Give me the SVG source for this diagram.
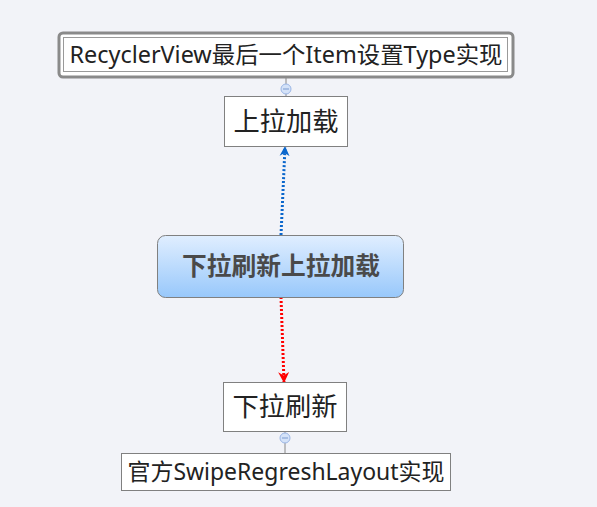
<svg xmlns="http://www.w3.org/2000/svg" width="597" height="507" viewBox="0 0 597 507">
<defs>
<linearGradient id="g" x1="0" y1="0" x2="0" y2="1">
<stop offset="0" stop-color="#e0eeff"/>
<stop offset="1" stop-color="#98c8fb"/>
</linearGradient>
<marker id="ab" viewBox="0 0 10 10" refX="9" refY="5" markerWidth="10" markerHeight="12" markerUnits="userSpaceOnUse" orient="auto">
<path d="M0,0 L10,5 L0,10 L3,5 Z" fill="#0a66cc"/>
</marker>
<marker id="ar" viewBox="0 0 10 10" refX="9" refY="5" markerWidth="11" markerHeight="14" markerUnits="userSpaceOnUse" orient="auto">
<path d="M0,0 L10,5 L0,10 L3,5 Z" fill="#ff0000"/>
</marker>
<style>
.box{fill:#ffffff;stroke:#808080;stroke-width:1}
.t{font-family:"Noto Sans","Noto Sans CJK SC",sans-serif;fill:#222;text-anchor:middle}
.col{fill:#d4e2f8;stroke:#9bb6e6;stroke-width:1}
.ln{stroke:#888;stroke-width:1}
</style>
</defs>
<rect width="597" height="507" fill="#f2f3f8"/>
<g id="connectors">
<line class="ln" x1="286" y1="77" x2="286" y2="96"/>
<circle class="col" cx="286" cy="89" r="5"/>
<line x1="283" y1="89" x2="289" y2="89" stroke="#7a9ad0" stroke-width="1"/>
<line class="ln" x1="285" y1="431" x2="285" y2="453"/>
<circle class="col" cx="285" cy="438" r="5"/>
<line x1="282" y1="438" x2="288" y2="438" stroke="#7a9ad0" stroke-width="1"/>
<line x1="281" y1="235" x2="285" y2="147" stroke="#0a66cc" stroke-width="3" stroke-dasharray="2,2" marker-end="url(#ab)"/>
<line x1="281" y1="297" x2="284" y2="382" stroke="#ff0000" stroke-width="3" stroke-dasharray="2,2" marker-end="url(#ar)"/>
</g>
<g id="root">
<rect x="59" y="33" width="454" height="44" rx="4" fill="#ffffff" stroke="#8a8a8a" stroke-width="3"/>
<rect x="63.5" y="37.5" width="444" height="34" fill="#ffffff" stroke="#9a9a9a" stroke-width="1"/>
<text class="t" x="286" y="63" font-size="23" textLength="433" lengthAdjust="spacingAndGlyphs">RecyclerView最后一个Item设置Type实现</text>
</g>
<g id="up">
<rect class="box" x="224.5" y="96.5" width="123" height="50"/>
<text class="t" x="286" y="131" font-size="26" textLength="105" lengthAdjust="spacingAndGlyphs">上拉加载</text>
</g>
<g id="center">
<rect x="157.5" y="235.5" width="246" height="62" rx="8" fill="url(#g)" stroke="#808080" stroke-width="1"/>
<text class="t" x="281" y="275" font-size="25" font-weight="bold" style="fill:#4a4a4a" textLength="198" lengthAdjust="spacingAndGlyphs">下拉刷新上拉加载</text>
</g>
<g id="down">
<rect class="box" x="223.5" y="382.5" width="123" height="49"/>
<text class="t" x="285" y="416" font-size="26" textLength="105" lengthAdjust="spacingAndGlyphs">下拉刷新</text>
</g>
<g id="bottom">
<rect class="box" x="121.5" y="453.5" width="329" height="37"/>
<text class="t" x="286" y="480" font-size="23" textLength="317" lengthAdjust="spacingAndGlyphs">官方SwipeRegreshLayout实现</text>
</g>
</svg>
